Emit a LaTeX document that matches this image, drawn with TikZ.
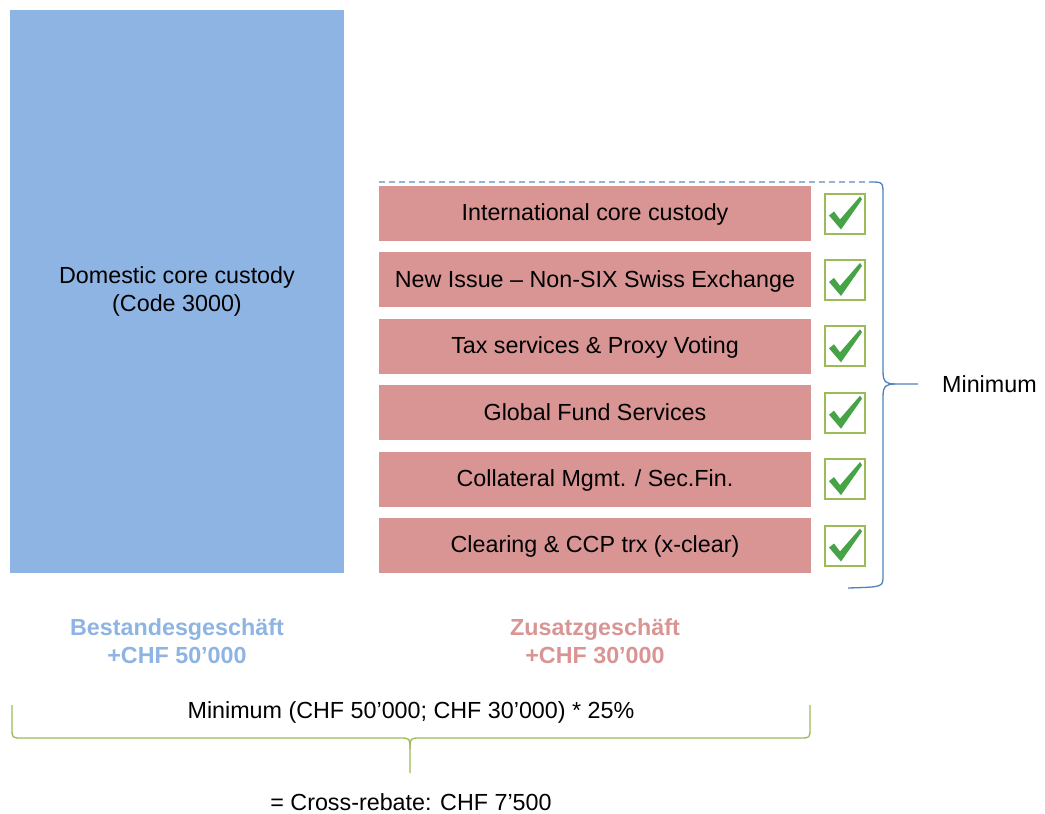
\documentclass[tikz,border=0pt]{standalone}
\usepackage{fontspec}
\setmainfont{Liberation Sans}
\definecolor{domblue}{HTML}{8EB4E3}
\definecolor{addred}{HTML}{D99594}
\definecolor{boxgreen}{HTML}{9BBB59}
\definecolor{tickgreen}{HTML}{46A346}
\definecolor{bracecol}{HTML}{4F81BD}
\definecolor{dashcol}{HTML}{95B3D7}
\begin{document}
\begin{tikzpicture}[x=1pt, y=-1pt,
    font=\fontsize{23.3}{28}\selectfont,
    redbox/.style={fill=addred, minimum width=432pt, minimum height=55pt, inner sep=0pt, text depth=2pt},
    checkbox/.style={draw=boxgreen, line width=2pt, fill=white, minimum size=40pt, inner sep=0pt},
    sumlbl/.style={font=\fontsize{23.3}{28}\selectfont\bfseries, align=center}]
    % Frame
    \useasboundingbox (0,0) rectangle (1045,814);

    % Domestic block
    \node[fill=domblue, minimum width=334pt, minimum height=563pt, align=center] (dom) at (177,291.5)
        {Domestic core custody\\(Code 3000)};

    % Additional services with check boxes
    \foreach \i/\txt in {1/International core custody,
                         2/New Issue – Non-SIX Swiss Exchange,
                         3/Tax services \& Proxy Voting,
                         4/Global Fund Services,
                         5/{Collateral Mgmt. / Sec.Fin.},
                         6/Clearing \& CCP trx (x-clear)} {
        \node[redbox] (r\i) at (595,{213.5+66.4*(\i-1)}) {\txt};
        \node[checkbox] (c\i) at (845,{213.5+66.4*(\i-1)}) {};
        \fill[tickgreen, shift={(c\i.center)}]
            (-16,2) -- (-11,-2) -- (-5,6) -- (15,-17) -- (17,-14) -- (-4,16) -- cycle;
    }

    % Right brace
    \coordinate (dashstart) at (379,182);
    \coordinate (dashend) at (870,182);
    \coordinate (mintip) at (918,384);
    \draw[dashcol, dash pattern=on 6pt off 4pt, line width=1.3pt] (dashstart) -- (dashend);
    \draw[bracecol, line width=1.3pt] (dashend) .. controls (883,182) .. (883,195) -- (883,371)
        .. controls (883,382) and (886,384) .. (895,384) -- (mintip);
    \draw[bracecol, line width=1.3pt] (895,384) .. controls (886,384) and (883,386) .. (883,397)
        -- (883,576) .. controls (883,587) .. (848,588);
    \node[anchor=west, inner sep=0pt] (minlbl) at (942,384) {Minimum};

    % Business labels
    \node[sumlbl, text=domblue] (stock) at (177,641) {Bestandesgeschäft\\+CHF 50’000};
    \node[sumlbl, text=addred] (extra) at (595,641) {Zusatzgeschäft\\+CHF 30’000};

    % Bottom brace
    \node (formula) at (411,712) {Minimum (CHF 50’000; CHF 30’000) * 25\%};
    \coordinate (bottip) at (410,773);
    \draw[boxgreen, line width=1.3pt] (12,705) -- (12,728) .. controls (12,738) .. (22,738) -- (399,738)
        .. controls (410,738) .. (410,749) -- (bottip);
    \draw[boxgreen, line width=1.3pt] (410,749) .. controls (410,738) .. (421,738) -- (800,738)
        .. controls (810,738) .. (810,728) -- (810,705);
    \node (rebate) at (411,802) {= Cross-rebate: CHF 7’500};
\end{tikzpicture}
\end{document}
